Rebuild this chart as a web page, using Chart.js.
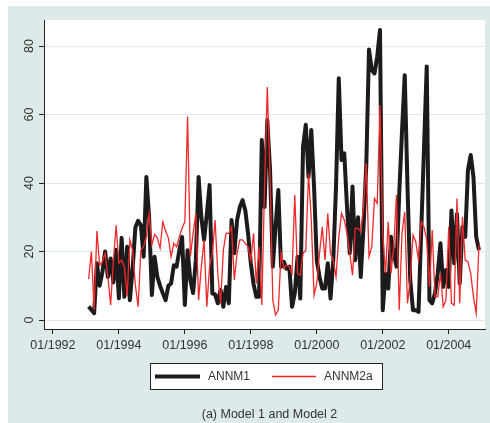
<!DOCTYPE html>
<html>
<head>
<meta charset="utf-8">
<title>ANNM1 vs ANNM2a</title>
<script src="https://cdn.jsdelivr.net/npm/chart.js@4.4.0/dist/chart.umd.min.js"></script>
<style>
  html, body { margin: 0; padding: 0; background: #fff; }
  canvas { display: block; }
</style>
</head>
<body>
<canvas id="chart" width="490" height="423"></canvas>
<script>
// monthly series, first value is 02/1993, last is 12/2004
const firstMonth = { year: 1993, month: 2 };

const annm1 = [
    4, 3, 2, 16.6, 10, 14, 20, 12.6, 18, 11, 20.5, 6.4,
    24, 6.8, 21.4, 5.8, 15, 27, 29, 27.7, 18.5, 41.8, 30, 7.3,
    18.5, 12.6, 10, 7.8, 5.8, 10, 10.7, 16, 15.6, 20.4, 24.3, 4.4,
    20.4, 11.7, 7.9, 17.5, 41.8, 30, 23.4, 31, 39.4, 7.8, 7.5, 4.9,
    8.8, 3.9, 9.7, 4.9, 29.2, 19.5, 29.2, 33, 35, 32, 25.3, 16.6,
    10.5, 6.8, 6.8, 52.6, 33, 58.4, 43.8, 15.6, 27.2, 38, 15.6, 17,
    15, 15.6, 3.9, 7.8, 18.5, 6.3, 50.6, 57, 41.8, 55.5, 39, 17.5,
    12.6, 9.2, 9.2, 16.6, 6.3, 17.5, 39, 70.6, 46.7, 48.7, 33, 19.5,
    39, 17.5, 30, 12.6, 27.2, 45, 79, 73, 72, 77, 84.7, 2.9,
    13.6, 9.2, 24.3, 19.5, 15.6, 37, 55, 71.5, 39, 11.7, 2.9, 2.9,
    2.4, 26, 50, 74, 5.8, 4.9, 7.8, 13.6, 22.4, 9.7, 14.6, 9.7,
    32, 16.6, 31, 10.7, 27.2, 24.3, 43.8, 48.2, 41.8, 24.3, 20.4
];

const annm2a = [
    12, 20, 3, 26, 16, 17, 19.5, 12.6, 4.4, 17, 27.7, 16.6,
    17.5, 15.6, 7, 23.4, 20.4, 10.2, 3.9, 20.4, 21.4, 24.3, 31, 22,
    25, 24, 21, 28.7, 26, 24, 18.5, 22.4, 21.4, 24.3, 26.8, 28.7,
    59.4, 18.5, 25.3, 31.1, 5.8, 15.6, 23.4, 3.9, 15.6, 19.5, 29.2, 13.6,
    4.9, 20.4, 25.3, 25.3, 27.2, 11.7, 19.5, 23.4, 23.4, 22.4, 21.4, 17.5,
    25.3, 10.7, 21.4, 4.4, 39, 68, 41.8, 5.8, 1.5, 2.9, 19.5, 15.1,
    16, 15.6, 13.6, 36.5, 13.6, 13.1, 19.5, 20.4, 42.8, 29.2, 7.3, 10.7,
    19.5, 27.2, 17.5, 31.1, 19.5, 17.5, 12.6, 24.3, 31.1, 29.2, 25.3, 19.5,
    13.1, 26.8, 26.8, 25.8, 33, 45.8, 18.5, 21.4, 35.5, 34, 62.8, 25.3,
    13.6, 28.7, 13.6, 21.4, 36.5, 2.9, 25.3, 31.6, 4.9, 11.7, 24.8, 22.9,
    17.5, 28.7, 27.2, 23.4, 9.7, 26.3, 6.8, 6.8, 13.6, 3.9, 5.8, 27.2,
    4.9, 4.4, 35.5, 4.9, 30.1, 17.5, 17, 13.6, 6.8, 2, 22
];

const seriesNames = ['ANNM1', 'ANNM2a'];
const xTickYears = [1992, 1994, 1996, 1998, 2000, 2002, 2004];
const yTickValues = [0, 20, 40, 60, 80];
const caption = '(a) Model 1 and Model 2';

const FONT = '"Liberation Sans", Arial, Helvetica, sans-serif';
const TEXT = '#333333';
const BLUISH = '#dee9ea';

// x position of each month in decimal years
const monthX = annm1.map((_, i) => firstMonth.year + (firstMonth.month - 1 + i) / 12);

// stata-like backdrop: bluish graph region, white plot region
const backdrop = {
    id: 'backdrop',
    beforeDraw(chart) {
        const { ctx, chartArea: a } = chart;
        ctx.save();
        ctx.fillStyle = BLUISH;
        ctx.fillRect(8, 6, chart.width - 8, chart.height - 6);
        ctx.fillStyle = '#ffffff';
        ctx.fillRect(a.left, a.top, a.right - a.left, a.bottom - a.top);
        ctx.restore();
    }
};

// rotated y labels, legend box and caption
const extras = {
    id: 'extras',
    afterDraw(chart) {
        const ctx = chart.ctx;
        const y = chart.scales.y;
        ctx.save();
        ctx.fillStyle = TEXT;
        ctx.font = '12.5px ' + FONT;
        ctx.textAlign = 'center';
        ctx.textBaseline = 'middle';
        yTickValues.forEach(v => {
            ctx.save();
            ctx.translate(30, y.getPixelForValue(v));
            ctx.rotate(-Math.PI / 2);
            ctx.fillText(String(v), 0, 0);
            ctx.restore();
        });

        // legend
        ctx.fillStyle = '#ffffff';
        ctx.fillRect(150.5, 363.5, 232, 26);
        ctx.strokeStyle = '#222222';
        ctx.lineWidth = 1;
        ctx.strokeRect(150.5, 363.5, 232, 26);

        const ds = chart.data.datasets;
        const entries = [
            { d: ds[0], x0: 155, x1: 200, tx: 208 },
            { d: ds[1], x0: 272, x1: 316, tx: 324 }
        ];
        ctx.font = '12px ' + FONT;
        ctx.textAlign = 'left';
        entries.forEach(e => {
            ctx.beginPath();
            ctx.strokeStyle = e.d.borderColor;
            ctx.lineWidth = e.d.borderWidth;
            ctx.moveTo(e.x0, 376.5);
            ctx.lineTo(e.x1, 376.5);
            ctx.stroke();
            ctx.fillStyle = TEXT;
            ctx.fillText(e.d.label, e.tx, 377);
        });

        ctx.font = '12.5px ' + FONT;
        ctx.textAlign = 'center';
        ctx.fillText(caption, 269.5, 415);
        ctx.restore();
    }
};

new Chart(document.getElementById('chart'), {
    type: 'line',
    data: {
        datasets: [
            {
                label: seriesNames[0],
                data: monthX.map((x, i) => ({ x, y: annm1[i] })),
                borderColor: '#1c1a1b',
                borderWidth: 4,
                borderJoinStyle: 'round',
                pointRadius: 0,
                tension: 0,
                order: 1
            },
            {
                label: seriesNames[1],
                data: monthX.map((x, i) => ({ x, y: annm2a[i] })),
                borderColor: '#f0282a',
                borderWidth: 1.3,
                pointRadius: 0,
                tension: 0,
                order: 0
            }
        ]
    },
    options: {
        responsive: false,
        animation: false,
        layout: { padding: { top: 20, right: 5, left: 0, bottom: 0 } },
        plugins: {
            legend: { display: false },
            tooltip: { enabled: false }
        },
        scales: {
            x: {
                type: 'linear',
                min: 1991.73,
                max: 2005.10,
                afterBuildTicks: s => { s.ticks = xTickYears.map(v => ({ value: v })); },
                afterFit: s => { s.height = 94; },
                grid: {
                    drawOnChartArea: false,
                    drawTicks: true,
                    tickLength: 5,
                    tickColor: '#222222',
                    color: '#222222'
                },
                border: { display: true, color: '#222222', width: 1 },
                ticks: {
                    callback: v => '01/' + v,
                    font: { family: FONT, size: 12.5 },
                    color: TEXT,
                    padding: 4,
                    maxRotation: 0,
                    autoSkip: false
                }
            },
            y: {
                min: -2.6,
                max: 87.6,
                afterBuildTicks: s => { s.ticks = yTickValues.map(v => ({ value: v })); },
                afterFit: s => { s.width = 44; },
                grid: {
                    color: BLUISH,
                    lineWidth: 1,
                    drawTicks: true,
                    tickLength: 5,
                    tickColor: '#222222'
                },
                border: { display: true, color: '#222222', width: 1 },
                ticks: { display: false }
            }
        }
    },
    plugins: [backdrop, extras]
});
</script>
</body>
</html>
